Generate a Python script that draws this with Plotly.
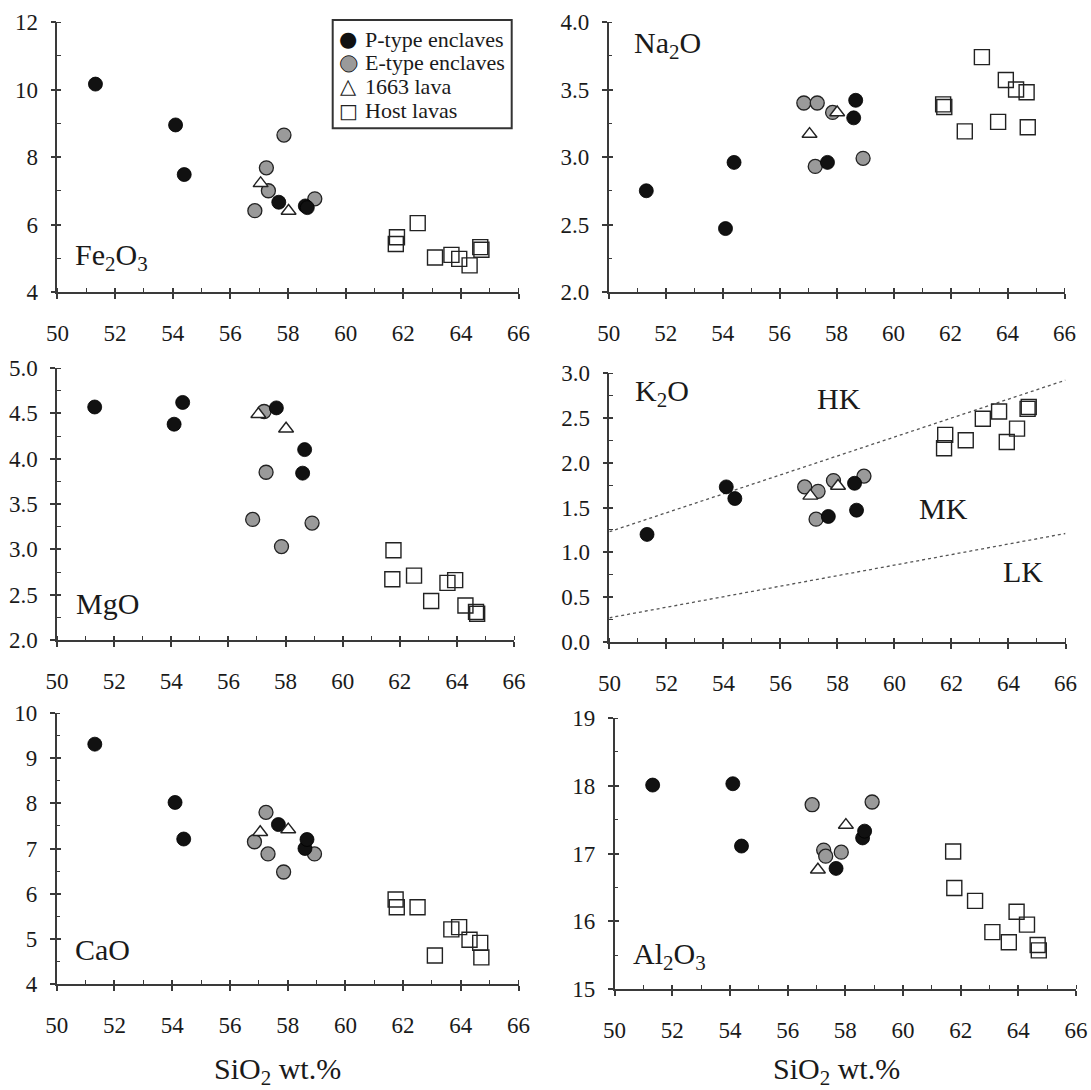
import plotly.graph_objects as go

# ---------------- data ----------------
sio2_p = [51.32, 54.10, 54.40, 57.68, 58.60, 58.67]
sio2_e = [56.85, 57.25, 57.32, 57.86, 58.93]
sio2_l = [57.05, 58.02]
sio2_h = [61.74, 61.78, 62.50, 63.10, 63.67, 63.94, 64.30, 64.67, 64.71]

fe2o3_p = [10.16, 8.95, 7.48, 6.66, 6.55, 6.50]
fe2o3_e = [6.41, 7.68, 7.00, 8.65, 6.76]
fe2o3_l = [7.22, 6.40]
fe2o3_h = [5.42, 5.62, 6.04, 5.02, 5.10, 4.98, 4.79, 5.33, 5.25]

na2o_p = [2.75, 2.47, 2.96, 2.96, 3.29, 3.42]
na2o_e = [3.40, 2.93, 3.40, 3.33, 2.99]
na2o_l = [3.17, 3.33]
na2o_h = [3.39, 3.37, 3.19, 3.74, 3.26, 3.57, 3.50, 3.48, 3.22]

mgo_p = [4.57, 4.38, 4.62, 4.56, 3.84, 4.10]
mgo_e = [3.33, 4.52, 3.85, 3.03, 3.29]
mgo_l = [4.49, 4.33]
mgo_h = [2.67, 2.99, 2.71, 2.43, 2.63, 2.66, 2.38, 2.31, 2.29]

k2o_p = [1.20, 1.73, 1.60, 1.40, 1.77, 1.47]
k2o_e = [1.73, 1.37, 1.68, 1.80, 1.85]
k2o_l = [1.63, 1.74]
k2o_h = [2.16, 2.31, 2.25, 2.49, 2.57, 2.23, 2.38, 2.60, 2.62]

cao_p = [9.31, 8.02, 7.21, 7.53, 7.00, 7.20]
cao_e = [7.15, 7.80, 6.88, 6.48, 6.88]
cao_l = [7.36, 7.42]
cao_h = [5.87, 5.70, 5.70, 4.63, 5.21, 5.26, 4.98, 4.91, 4.59]

al2o3_p = [18.01, 18.03, 17.11, 16.78, 17.23, 17.33]
al2o3_e = [17.72, 17.05, 16.96, 17.02, 17.76]
al2o3_l = [16.76, 17.42]
al2o3_h = [17.03, 16.49, 16.30, 15.84, 15.69, 16.14, 15.95, 15.65, 15.57]

# K2O series boundaries (HK/MK and MK/LK)
bound_x = [50, 66]
hk_bound = [1.23, 2.92]
lk_bound = [0.27, 1.21]

group_names = ["P-type enclaves", "E-type enclaves", "1663 lava", "Host lavas"]
panel_labels = ["Fe<sub>2</sub>O<sub>3</sub>", "Na<sub>2</sub>O", "MgO",
                "K<sub>2</sub>O", "CaO", "Al<sub>2</sub>O<sub>3</sub>"]
x_title = "SiO<sub>2</sub> wt.%"

panels = [
    (fe2o3_p, fe2o3_e, fe2o3_l, fe2o3_h),
    (na2o_p, na2o_e, na2o_l, na2o_h),
    (mgo_p, mgo_e, mgo_l, mgo_h),
    (k2o_p, k2o_e, k2o_l, k2o_h),
    (cao_p, cao_e, cao_l, cao_h),
    (al2o3_p, al2o3_e, al2o3_l, al2o3_h),
]

# ---------------- layout geometry ----------------
W, H = 1091, 1090
# pixel boxes: (left, right, top, bottom)
boxes = [
    (57.4, 518.6, 22, 292),
    (608.7, 1064.5, 22, 292),
    (57.0, 514.0, 368, 640),
    (609.4, 1065.5, 373, 642),
    (56.7, 518.6, 713, 984),
    (614.6, 1076.0, 718, 989),
]
yspecs = [
    dict(range=[4, 12], dtick=2, minor=1, fmt="d"),
    dict(range=[2, 4], dtick=0.5, minor=0.25, fmt=".1f"),
    dict(range=[2, 5], dtick=0.5, minor=0.25, fmt=".1f"),
    dict(range=[0, 3], dtick=0.5, minor=0.25, fmt=".1f"),
    dict(range=[4, 10], dtick=1, minor=0.5, fmt="d"),
    dict(range=[15, 19], dtick=1, minor=0.5, fmt="d"),
]
# label positions (data coords, left-anchored)
label_pos = [(50.55, 5.04), (50.82, 3.83), (50.61, 2.40),
             (50.82, 2.78), (50.57, 4.76), (50.58, 15.48)]

FONT = "Liberation Serif, Times New Roman, serif"
SYMFONT = "DejaVu Sans"
AX = "#3a3a3a"
TXT = "#1a1a1a"

fig = go.Figure()

styles = [
    dict(symbol="circle", size=14, color="#111111", line=dict(color="#000000", width=0.8)),
    dict(symbol="circle", size=14, color="#9a9a9a", line=dict(color="#222222", width=1.3)),
    dict(symbol="triangle-up", size=13, color="#ffffff", line=dict(color="#222222", width=1.4)),
    dict(symbol="square-open", size=15, color="#222222", line=dict(color="#222222", width=1.4)),
]
xs = [sio2_p, sio2_e, sio2_l, sio2_h]
draw_order = [1, 0, 2, 3]
NP = len(panels)

for i, vals in enumerate(panels):
    ax = "" if i == 0 else str(i + 1)
    if i == 3:
        for yb in (hk_bound, lk_bound):
            fig.add_trace(go.Scatter(x=bound_x, y=yb, mode="lines",
                                     line=dict(color="#555555", width=1.3, dash="dot"),
                                     showlegend=False, hoverinfo="skip",
                                     xaxis="x" + ax, yaxis="y" + ax))
    for g in draw_order:
        fig.add_trace(go.Scatter(
            x=xs[g], y=vals[g], mode="markers", name=group_names[g],
            marker=styles[g], showlegend=False,
            cliponaxis=False, xaxis="x" + ax, yaxis="y" + ax))
    # empty helper traces so the inner-tick twin axes get drawn
    fig.add_trace(go.Scatter(x=[], y=[], showlegend=False, hoverinfo="skip",
                             xaxis="x" + str(i + 1 + NP), yaxis="y" + ax))
    fig.add_trace(go.Scatter(x=[], y=[], showlegend=False, hoverinfo="skip",
                             xaxis="x" + ax, yaxis="y" + str(i + 1 + NP)))

layout = dict(
    width=W, height=H, margin=dict(l=0, r=0, t=0, b=0, autoexpand=False),
    paper_bgcolor="white", plot_bgcolor="white",
    font=dict(family=FONT, color=TXT, size=22),
    showlegend=False,
    annotations=[], shapes=[],
)

for i, (l, r, t, b) in enumerate(boxes):
    n = "" if i == 0 else str(i + 1)
    tw = str(i + 1 + NP)
    ys = yspecs[i]
    xdom = [l / W, r / W]
    ydom = [1 - b / H, 1 - t / H]
    layout["xaxis" + n] = dict(
        domain=xdom, anchor="y" + n, range=[50, 66], dtick=2, tick0=50,
        showgrid=False, zeroline=False, showline=True, linecolor=AX, linewidth=1.5,
        ticks="outside", ticklen=5, tickwidth=1.5, tickcolor=AX,
        minor=dict(ticks="inside", dtick=1, tick0=50, ticklen=4, tickwidth=1.3, tickcolor=AX),
        tickfont=dict(family=FONT, size=23, color=TXT), ticklabelstandoff=15,
        fixedrange=True)
    layout["yaxis" + n] = dict(
        domain=ydom, anchor="x" + n, range=ys["range"],
        dtick=ys["dtick"], tick0=ys["range"][0], tickformat=ys["fmt"],
        showgrid=False, zeroline=False, showline=True, linecolor=AX, linewidth=1.5,
        ticks="outside", ticklen=5, tickwidth=1.5, tickcolor=AX,
        minor=dict(ticks="inside", dtick=ys["minor"], tick0=ys["range"][0],
                   ticklen=4, tickwidth=1.3, tickcolor=AX),
        tickfont=dict(family=FONT, size=23, color=TXT), ticklabelstandoff=8,
        fixedrange=True)
    # twin axes: inner half of the major ticks (so majors cross the axis line)
    layout["xaxis" + tw] = dict(
        domain=xdom, anchor="y" + n, overlaying="x" + n, side="bottom",
        range=[50, 66], dtick=2, tick0=50, showgrid=False, zeroline=False,
        showline=False, ticks="inside", ticklen=4, tickwidth=1.5, tickcolor=AX,
        showticklabels=False, fixedrange=True)
    layout["yaxis" + tw] = dict(
        domain=ydom, anchor="x" + n, overlaying="y" + n, side="left",
        range=ys["range"], dtick=ys["dtick"], tick0=ys["range"][0],
        showgrid=False, zeroline=False, showline=False, ticks="inside",
        ticklen=4, tickwidth=1.5, tickcolor=AX, showticklabels=False,
        fixedrange=True)
    lx, ly = label_pos[i]
    layout["annotations"].append(dict(
        x=lx, y=ly, xref="x" + n, yref="y" + n, text=panel_labels[i],
        showarrow=False, xanchor="left", yanchor="middle",
        font=dict(family=FONT, size=30, color=TXT)))

# K2O field labels
for txt, x0, y0 in [("HK", 57.2, 2.72), ("MK", 60.78, 1.49), ("LK", 63.74, 0.79)]:
    layout["annotations"].append(dict(
        x=x0, y=y0, xref="x4", yref="y4", text=txt, showarrow=False,
        xanchor="left", yanchor="middle", font=dict(family=FONT, size=30, color=TXT)))

# x-axis titles
for cx in (277 / W, 836 / W):
    layout["annotations"].append(dict(
        x=cx, y=1 - 1071 / H, xref="paper", yref="paper", text=x_title,
        showarrow=False, xanchor="center", yanchor="middle",
        font=dict(family=FONT, size=30, color=TXT)))

# ---------------- legend (boxed key) ----------------
leg_l, leg_r, leg_t, leg_b = 332.7, 511.7, 20.0, 128.3
layout["shapes"].append(dict(
    type="rect", xref="paper", yref="paper",
    x0=leg_l / W, x1=leg_r / W, y0=1 - leg_b / H, y1=1 - leg_t / H,
    line=dict(color="#333333", width=2), fillcolor="white", layer="above"))
row_y = [39.3, 62.0, 86.0, 110.5]
sym_x = 348.3
txt_x = 362.7
OUTLINE = "-1px 0 #222, 1px 0 #222, 0 -1px #222, 0 1px #222"
legend_syms = [
    ("\u25CF", "#111111", 21, "none"),
    ("\u25CF", "#9a9a9a", 20, OUTLINE),
    ("\u25B3", "#222222", 21, "none"),
    ("\u25A1", "#222222", 20, "none"),
]
for k, name in enumerate(group_names):
    yy = 1 - row_y[k] / H
    ch, col, sz, shadow = legend_syms[k]
    layout["annotations"].append(dict(
        x=sym_x / W, y=yy, xref="paper", yref="paper", text=ch,
        showarrow=False, xanchor="center", yanchor="middle",
        font=dict(family=SYMFONT, size=sz, color=col, shadow=shadow)))
    layout["annotations"].append(dict(
        x=txt_x / W, y=yy, xref="paper", yref="paper", text=name,
        showarrow=False, xanchor="left", yanchor="middle",
        font=dict(family=FONT, size=22, color=TXT)))

fig.update_layout(**layout)
fig.write_html("out.html", config={"displayModeBar": False},
               post_script="document.body.style.margin='0px';document.body.style.padding='0px';")
